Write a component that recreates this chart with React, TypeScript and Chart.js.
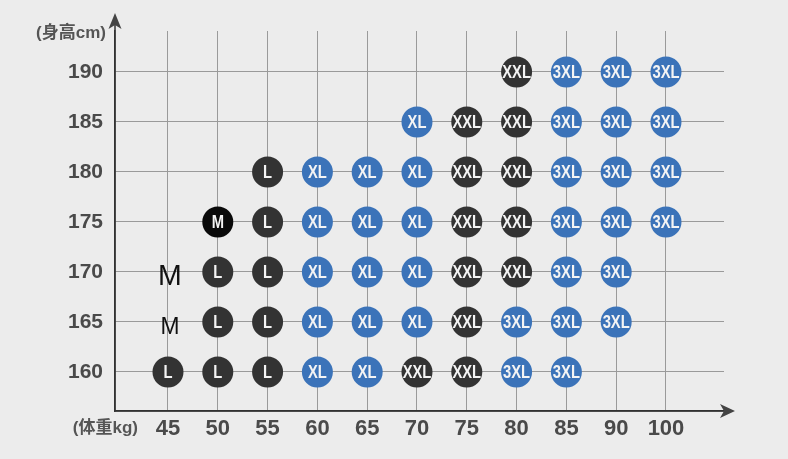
import React, { useEffect, useRef } from "react";
import { Chart, registerables } from "chart.js";

Chart.register(...registerables);

// ---- data ----
const weights = ["45", "50", "55", "60", "65", "70", "75", "80", "85", "90", "100"];
const heights = [160, 165, 170, 175, 180, 185, 190];
// size per weight column for each height row ("m" = plain text M, "" = none)
const row160 = ["L", "L", "L", "XL", "XL", "XXL", "XXL", "3XL", "3XL", "", ""];
const row165 = ["m", "L", "L", "XL", "XL", "XL", "XXL", "3XL", "3XL", "3XL", ""];
const row170 = ["m", "L", "L", "XL", "XL", "XL", "XXL", "XXL", "3XL", "3XL", ""];
const row175 = ["", "M", "L", "XL", "XL", "XL", "XXL", "XXL", "3XL", "3XL", "3XL"];
const row180 = ["", "", "L", "XL", "XL", "XL", "XXL", "XXL", "3XL", "3XL", "3XL"];
const row185 = ["", "", "", "", "", "XL", "XXL", "XXL", "3XL", "3XL", "3XL"];
const row190 = ["", "", "", "", "", "", "", "XXL", "3XL", "3XL", "3XL"];
const sizeRows = [row160, row165, row170, row175, row180, row185, row190];
const sizeKinds = ["M", "L", "XL", "XXL", "3XL", "m"];
const yTitle = "(身高cm)";
const xTitle = "(体重kg)";

// ---- styles ----
const BG = "#ececec";
const DARK = "#333333";
const BLUE = "#3b73b9";
const kindColor: Record<string, string> = {
  M: "#0a0a0a",
  L: DARK,
  XL: BLUE,
  XXL: DARK,
  "3XL": BLUE,
  m: "rgba(0,0,0,0)",
};
const FONT = '"Liberation Sans", "Noto Sans CJK SC", Arial, sans-serif';

function buildDatasets() {
  return sizeKinds.map((kind) => {
    const pts: { x: number; y: number }[] = [];
    sizeRows.forEach((row, ri) => {
      row.forEach((s, ci) => {
        if (s === kind) pts.push({ x: ci, y: heights[ri] });
      });
    });
    return {
      label: kind,
      data: pts,
      pointRadius: kind === "m" ? 0 : 15.5,
      pointHoverRadius: kind === "m" ? 0 : 15.5,
      pointBackgroundColor: kindColor[kind],
      pointBorderWidth: 0,
      showLine: false,
    };
  });
}

const labelPlugin = {
  id: "sizeLabels",
  afterDatasetsDraw(chart: any) {
    const ctx = chart.ctx;
    chart.data.datasets.forEach((ds: any, di: number) => {
      const meta = chart.getDatasetMeta(di);
      const kind = ds.label;
      meta.data.forEach((el: any, i: number) => {
        ctx.save();
        ctx.textAlign = "center";
        ctx.textBaseline = "middle";
        if (kind === "m") {
          const h = ds.data[i].y;
          const size = h === 170 ? 30 : 24;
          ctx.fillStyle = "#111";
          ctx.font = `${size}px ${FONT}`;
          ctx.translate(el.x + 2, el.y + 5);
          ctx.scale(0.95, 1);
          ctx.fillText("M", 0, 0);
        } else {
          ctx.fillStyle = "#f4f4f4";
          ctx.font = `bold 18px ${FONT}`;
          ctx.translate(el.x, el.y + 1);
          ctx.scale(0.82, 1);
          ctx.fillText(kind, 0, 0);
        }
        ctx.restore();
      });
    });
  },
  afterDraw(chart: any) {
    const ctx = chart.ctx;
    const { left, right, top, bottom } = chart.chartArea;
    ctx.save();
    ctx.strokeStyle = "#333";
    ctx.fillStyle = "#444";
    ctx.lineWidth = 1.5;
    // y axis extension + arrow
    ctx.beginPath();
    ctx.moveTo(left, bottom);
    ctx.lineTo(left, top - 8);
    ctx.stroke();
    ctx.beginPath();
    ctx.moveTo(left, top - 18);
    ctx.lineTo(left - 6.5, top - 2);
    ctx.lineTo(left, top - 6);
    ctx.lineTo(left + 6.5, top - 2);
    ctx.closePath();
    ctx.fill();
    // x axis extension + arrow
    ctx.beginPath();
    ctx.moveTo(left, bottom);
    ctx.lineTo(right + 2, bottom);
    ctx.stroke();
    ctx.beginPath();
    ctx.moveTo(right + 11, bottom);
    ctx.lineTo(right - 4, bottom - 7);
    ctx.lineTo(right, bottom);
    ctx.lineTo(right - 4, bottom + 7);
    ctx.closePath();
    ctx.fill();
    // axis titles
    ctx.fillStyle = "#555";
    ctx.font = `bold 17px ${FONT}`;
    ctx.textBaseline = "middle";
    ctx.textAlign = "right";
    ctx.fillText(yTitle, left - 9, top + 2);
    ctx.fillText(xTitle, left + 23, bottom + 17);
    ctx.restore();
  },
};

export default function App() {
  const ref = useRef<HTMLCanvasElement | null>(null);
  useEffect(() => {
    if (!ref.current) return;
    const chart = new Chart(ref.current, {
      type: "scatter",
      data: { datasets: buildDatasets() as any },
      plugins: [labelPlugin],
      options: {
        animation: false,
        responsive: false,
        events: [],
        layout: { padding: { top: 31, right: 64, left: 0, bottom: 0 } },
        plugins: { legend: { display: false }, tooltip: { enabled: false } },
        scales: {
          x: {
            type: "linear",
            min: -1.064,
            max: 11.165,
            afterBuildTicks: (s: any) => {
              s.ticks = weights.map((_, i) => ({ value: i }));
            },
            afterFit: (s: any) => {
              s.height = 48;
            },
            ticks: {
              callback: (v: any) => weights[v as number] ?? "",
              font: { family: FONT, size: 22, weight: "bold" },
              color: "#4a4a4a",
              padding: 5,
              maxRotation: 0,
              autoSkip: false,
            },
            grid: { color: "#9a9a9a", lineWidth: 1, drawTicks: false },
            border: { display: true, color: "#333", width: 1.5 },
          },
          y: {
            type: "linear",
            min: 156.1,
            max: 194.1,
            afterBuildTicks: (s: any) => {
              s.ticks = heights.map((h) => ({ value: h }));
            },
            afterFit: (s: any) => {
              s.width = 115;
            },
            ticks: {
              callback: (v: any) => String(v),
              font: { family: FONT, size: 21, weight: "bold" },
              color: "#4a4a4a",
              padding: 12,
            },
            grid: { color: "#9a9a9a", lineWidth: 1, drawTicks: false },
            border: { display: true, color: "#333", width: 1.5 },
          },
        },
      },
    });
    return () => chart.destroy();
  }, []);
  return (
    <div
      style={{
        position: "absolute",
        left: 0,
        top: 0,
        width: 788,
        height: 459,
        background: BG,
      }}
    >
      <canvas ref={ref} width={788} height={459} style={{ display: "block" }} />
    </div>
  );
}
